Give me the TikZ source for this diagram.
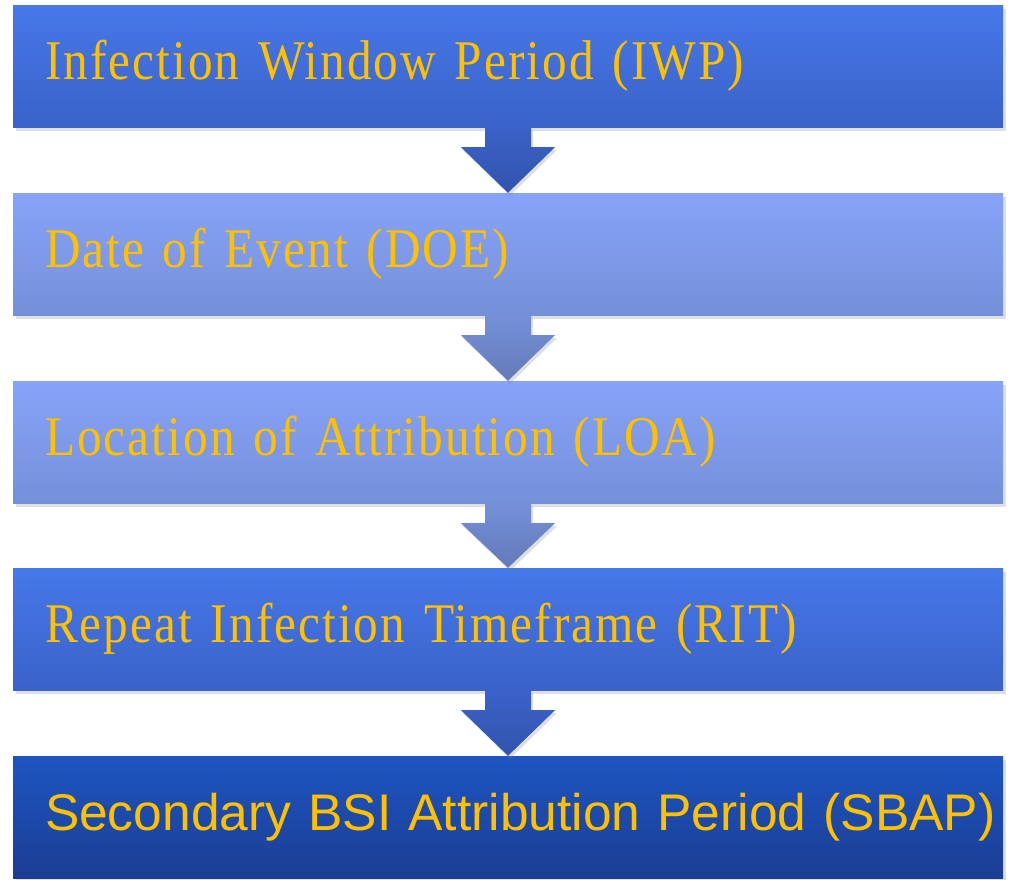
\documentclass[tikz,border=0pt]{standalone}
\usepackage{fontspec}
\setmainfont{Liberation Serif}
\setsansfont{Liberation Sans}
\usetikzlibrary{calc,shadows}

\definecolor{midtop}{HTML}{4678E9}
\definecolor{midbot}{HTML}{3A62C9}
\definecolor{lighttop}{HTML}{87A3F9}
\definecolor{lightbot}{HTML}{7590D9}
\definecolor{darktop}{HTML}{1E55C2}
\definecolor{darkbot}{HTML}{1A3E93}
\definecolor{labelgold}{HTML}{FFC000}

\tikzset{
  stagebox/.style={rectangle,minimum width=990pt,minimum height=122pt,
    text width=926pt,inner xsep=32pt,align=left,text=labelgold,
    drop shadow={shadow xshift=3pt,shadow yshift=-4pt,opacity=.25}},
  serifstage/.style={font=\fontsize{56}{60}\selectfont\addfontfeature{FakeStretch=0.88,LetterSpace=3.7}},
  midbox/.style={stagebox,serifstage,top color=midtop,bottom color=midbot},
  lightbox/.style={stagebox,serifstage,top color=lighttop,bottom color=lightbot},
  darkbox/.style={stagebox,top color=darktop,bottom color=darkbot,
    font=\sffamily\fontsize{51.5}{56}\selectfont},
  midarrow/.style={top color=midbot,bottom color=midbot!85!black,
    drop shadow={shadow xshift=2pt,shadow yshift=-3pt,opacity=.25}},
  lightarrow/.style={top color=lightbot,bottom color=lightbot!85!black,
    drop shadow={shadow xshift=2pt,shadow yshift=-3pt,opacity=.25}}
}

% block arrow from the bottom of #2 to the top of #3
\newcommand{\stagearrow}[3]{
  \path[#1] ($(#2.south)+(-23,0)$) -- ($(#2.south)+(23,0)$)
    -- ($(#2.south)+(23,20)$) -- ($(#2.south)+(47,20)$) -- (#3.north)
    -- ($(#2.south)+(-47,20)$) -- ($(#2.south)+(-23,20)$) -- cycle;
}

\begin{document}
\begin{tikzpicture}[x=1pt,y=-1pt]
\useasboundingbox (0,0) rectangle (1015,879);
% the stages
\node[midbox] (iwp) at (508,66) {Infection Window Period (IWP)};
\node[lightbox] (doe) at (508,254) {Date of Event (DOE)};
\node[lightbox] (loa) at (508,442) {Location of Attribution (LOA)};
\node[midbox] (rit) at (508,629) {Repeat Infection Timeframe (RIT)};
\node[darkbox] (sbap) at (508,817) {\mbox{Secondary BSI Attribution Period (SBAP)}};
% the arrows
\stagearrow{midarrow}{iwp}{doe}
\stagearrow{lightarrow}{doe}{loa}
\stagearrow{lightarrow}{loa}{rit}
\stagearrow{midarrow}{rit}{sbap}
\end{tikzpicture}
\end{document}
